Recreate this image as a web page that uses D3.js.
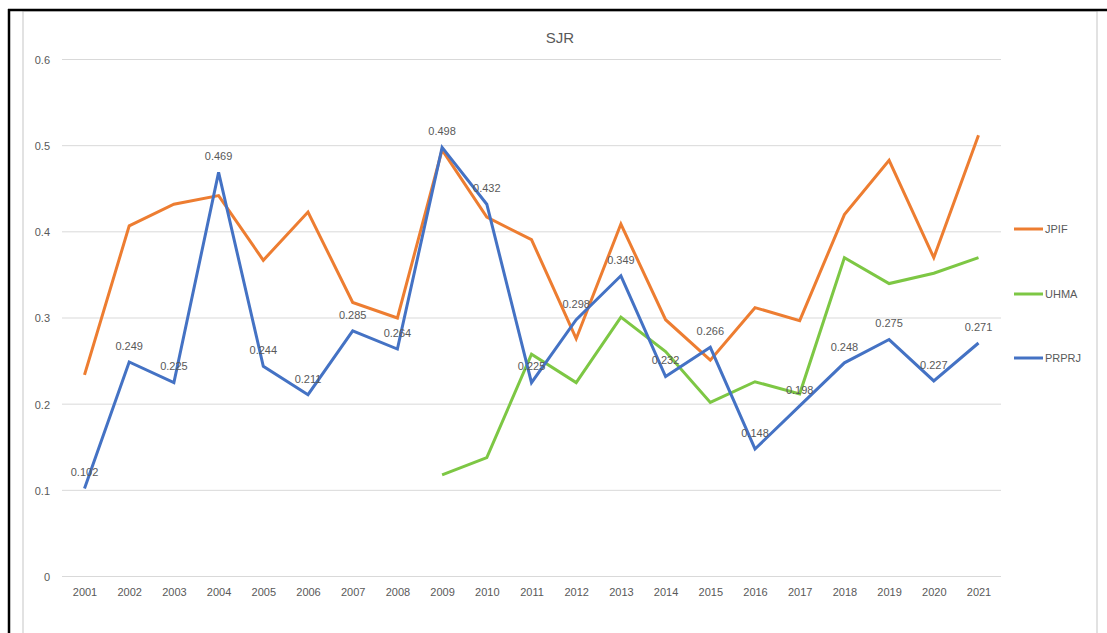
<!DOCTYPE html>
<html>
<head>
<meta charset="utf-8">
<script src="https://cdn.jsdelivr.net/npm/d3@7"></script>
<style>
  html, body { margin: 0; padding: 0; background: #fff; }
  svg { display: block; }
</style>
</head>
<body>
<svg id="chart" width="1107" height="633"></svg>
<script>
const years = ["2001","2002","2003","2004","2005","2006","2007","2008","2009","2010","2011","2012","2013","2014","2015","2016","2017","2018","2019","2020","2021"];
const jpif  = [0.234,0.407,0.432,0.442,0.367,0.423,0.318,0.300,0.495,0.417,0.391,0.276,0.409,0.298,0.251,0.312,0.297,0.420,0.483,0.370,0.512];
const uhma  = [null,null,null,null,null,null,null,null,0.118,0.138,0.258,0.225,0.301,0.261,0.202,0.226,0.212,0.370,0.340,0.352,0.370];
const prprj = [0.102,0.249,0.225,0.469,0.244,0.211,0.285,0.264,0.498,0.432,0.225,0.298,0.349,0.232,0.266,0.148,0.198,0.248,0.275,0.227,0.271];
const prprjLabels = ["0.102","0.249","0.225","0.469","0.244","0.211","0.285","0.264","0.498","0.432","0.225","0.298","0.349","0.232","0.266","0.148","0.198","0.248","0.275","0.227","0.271"];
const yTicks = [0, 0.1, 0.2, 0.3, 0.4, 0.5, 0.6];
const seriesNames = ["JPIF", "UHMA", "PRPRJ"];
const seriesColors = ["#ED7D31", "#7DC744", "#4472C4"];

const svg = d3.select("#chart");
const font = "'Liberation Sans', Arial, sans-serif";
const textColor = "#595959";

// frame
svg.append("rect").attr("x", 23).attr("y", 11).attr("width", 1074).attr("height", 640)
  .attr("fill", "#fff").attr("stroke", "#d9d9d9").attr("stroke-width", 1.5);
svg.append("line").attr("x1", 8).attr("x2", 1107).attr("y1", 10).attr("y2", 10)
  .attr("stroke", "#000").attr("stroke-width", 2.5);
svg.append("line").attr("x1", 9).attr("x2", 9).attr("y1", 9).attr("y2", 633)
  .attr("stroke", "#000").attr("stroke-width", 2.5);

const x = d3.scalePoint().domain(years).range([84.5, 978.5]);
const y = d3.scaleLinear().domain([0, 0.6]).range([576.5, 59.5]);

// gridlines
svg.append("g").selectAll("line").data(yTicks).join("line")
  .attr("x1", 62).attr("x2", 1001)
  .attr("y1", d => y(d)).attr("y2", d => y(d))
  .attr("stroke", "#d9d9d9").attr("stroke-width", 1);

// y axis labels
const yAxis = d3.axisLeft(y).tickValues(yTicks).tickSize(0).tickPadding(0).tickFormat(d => d3.format("")(d));
const gy = svg.append("g").attr("transform", "translate(50,0)").call(yAxis);
gy.select(".domain").remove();
gy.selectAll("text").attr("font-family", font).attr("font-size", "11px").attr("fill", textColor).attr("dy", "0.35em");

// x axis labels
const xAxis = d3.axisBottom(x).tickSize(0).tickPadding(0);
const gx = svg.append("g").attr("transform", "translate(0,586)").call(xAxis);
gx.select(".domain").remove();
gx.selectAll("text").attr("font-family", font).attr("font-size", "11px").attr("fill", textColor).attr("dy", "0.35em").attr("y", 6);

// title
svg.append("text").attr("x", 560).attr("y", 43).attr("text-anchor", "middle")
  .attr("font-family", font).attr("font-size", "15px").attr("fill", textColor).text("SJR");

// lines
const line = d3.line().defined(d => d[1] != null).x(d => x(d[0])).y(d => y(d[1]));
[jpif, uhma, prprj].forEach((vals, i) => {
  const pts = years.map((yr, j) => [yr, vals[j]]);
  svg.append("path").datum(pts).attr("d", line)
    .attr("fill", "none").attr("stroke", seriesColors[i]).attr("stroke-width", 3)
    .attr("stroke-linejoin", "miter").attr("stroke-linecap", "butt");
});

// data labels for PRPRJ
svg.append("g").selectAll("text").data(years).join("text")
  .attr("x", d => x(d))
  .attr("y", (d, i) => y(prprj[i]) - 16)
  .attr("dy", "0.35em")
  .attr("text-anchor", "middle")
  .attr("font-family", font).attr("font-size", "11px").attr("fill", textColor)
  .text((d, i) => prprjLabels[i]);

// legend
const legendY = [229, 294, 358];
const lg = svg.append("g");
seriesNames.forEach((name, i) => {
  lg.append("line").attr("x1", 1014).attr("x2", 1043).attr("y1", legendY[i]).attr("y2", legendY[i])
    .attr("stroke", seriesColors[i]).attr("stroke-width", 3);
  lg.append("text").attr("x", 1045).attr("y", legendY[i]).attr("dy", "0.35em")
    .attr("font-family", font).attr("font-size", "11px").attr("fill", textColor).text(name);
});
</script>
</body>
</html>
